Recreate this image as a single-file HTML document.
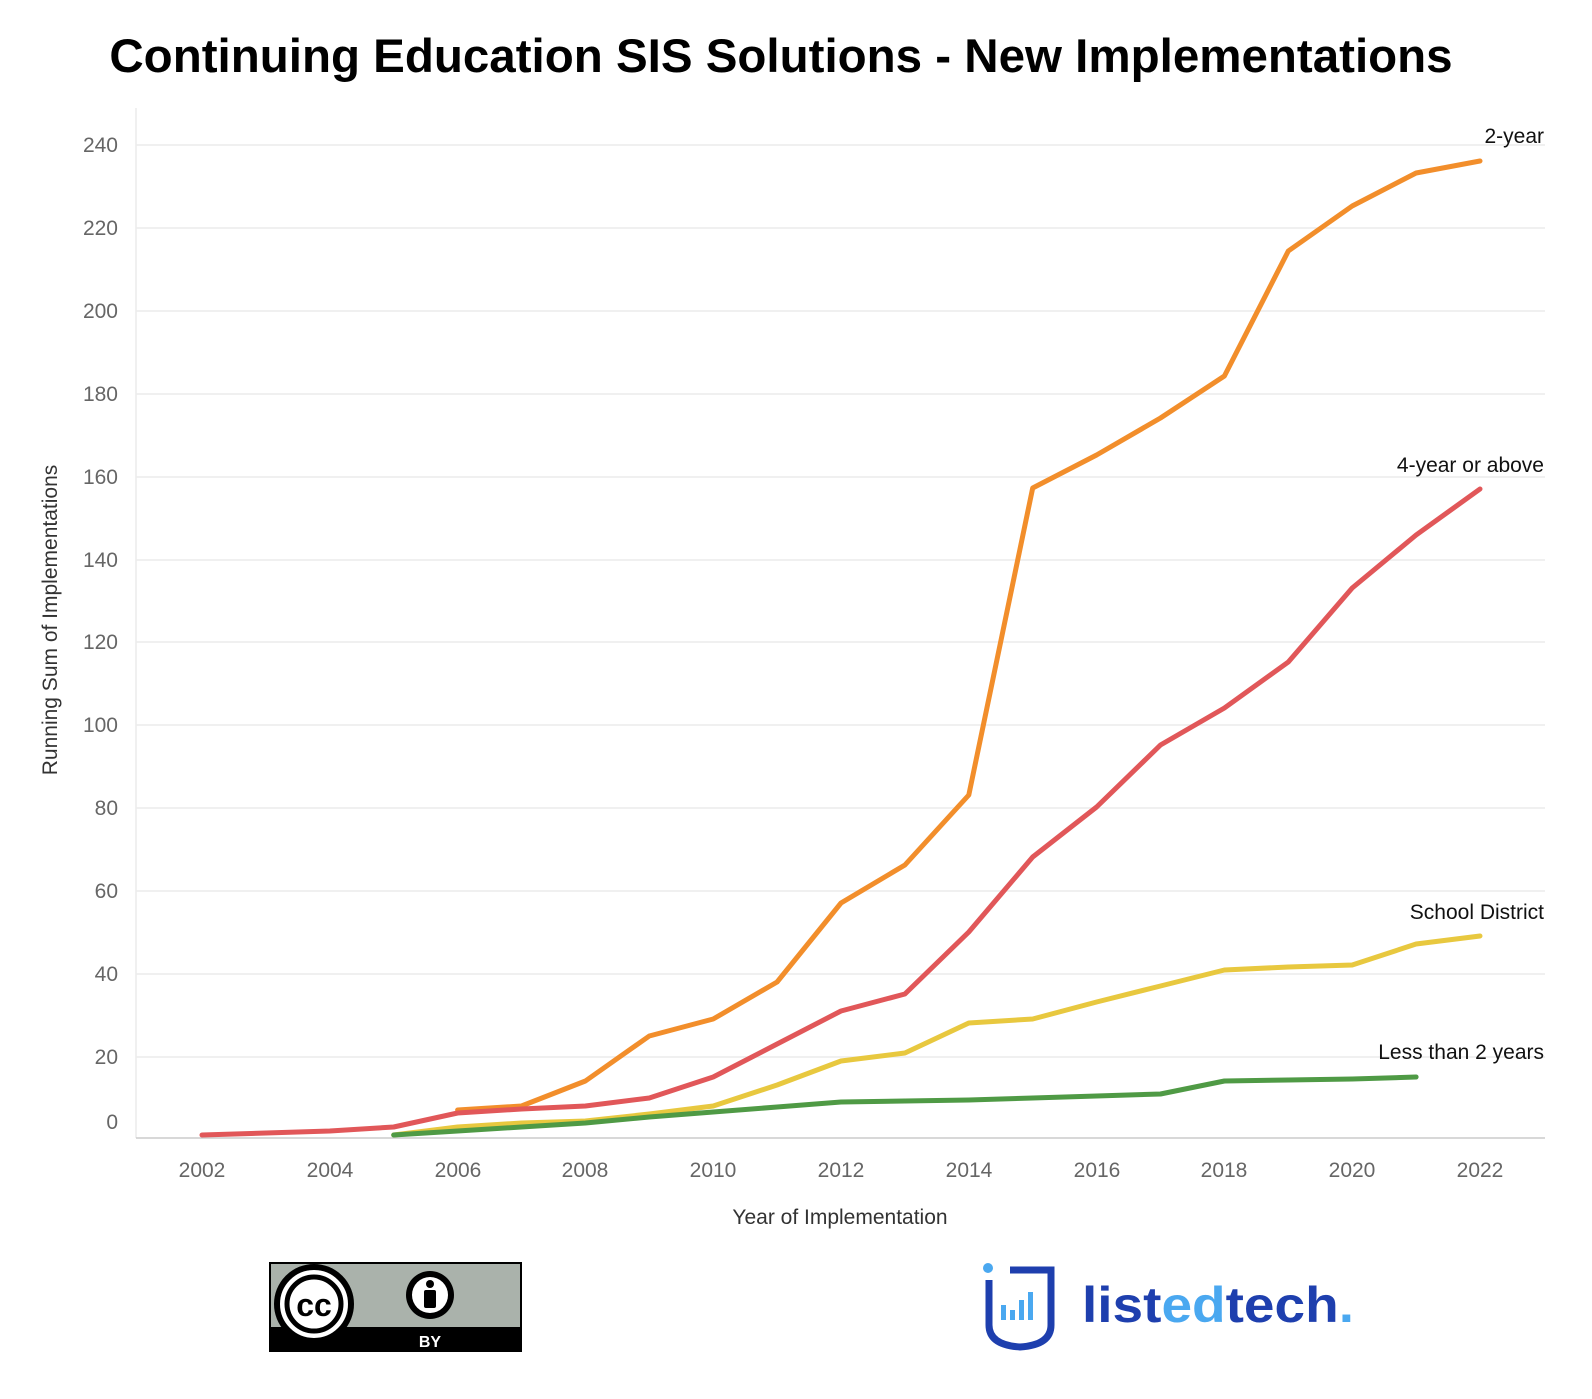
<!DOCTYPE html>
<html><head><meta charset="utf-8"><style>
body{margin:0;background:#fff;}
svg text{font-family:"Liberation Sans",sans-serif;}
</style></head><body>
<svg width="1592" height="1394" viewBox="0 0 1592 1394" xmlns="http://www.w3.org/2000/svg">
<text x="781" y="72" text-anchor="middle" font-size="47.5" font-weight="bold" fill="#000">Continuing Education SIS Solutions - New Implementations</text>
<g stroke="#ececec" stroke-width="1.5">
<line x1="136" y1="145" x2="1545" y2="145"/><line x1="136" y1="228" x2="1545" y2="228"/><line x1="136" y1="311" x2="1545" y2="311"/><line x1="136" y1="394" x2="1545" y2="394"/><line x1="136" y1="477" x2="1545" y2="477"/><line x1="136" y1="560" x2="1545" y2="560"/><line x1="136" y1="642" x2="1545" y2="642"/><line x1="136" y1="725" x2="1545" y2="725"/><line x1="136" y1="808" x2="1545" y2="808"/><line x1="136" y1="891" x2="1545" y2="891"/><line x1="136" y1="974" x2="1545" y2="974"/><line x1="136" y1="1057" x2="1545" y2="1057"/>
<line x1="136" y1="108" x2="136" y2="1138"/>
</g>
<line x1="136" y1="1138" x2="1545" y2="1138" stroke="#ccc" stroke-width="1.5"/>
<g font-size="21" fill="#666" text-anchor="end">
<text x="118" y="152">240</text><text x="118" y="235">220</text><text x="118" y="318">200</text><text x="118" y="401">180</text><text x="118" y="484">160</text><text x="118" y="567">140</text><text x="118" y="649">120</text><text x="118" y="732">100</text><text x="118" y="815">80</text><text x="118" y="898">60</text><text x="118" y="981">40</text><text x="118" y="1064">20</text><text x="118" y="1129">0</text>
</g>
<g font-size="21" fill="#666" text-anchor="middle">
<text x="202" y="1177">2002</text><text x="330" y="1177">2004</text><text x="458" y="1177">2006</text><text x="585" y="1177">2008</text><text x="713" y="1177">2010</text><text x="841" y="1177">2012</text><text x="969" y="1177">2014</text><text x="1097" y="1177">2016</text><text x="1224" y="1177">2018</text><text x="1352" y="1177">2020</text><text x="1480" y="1177">2022</text>
</g>
<text x="840" y="1224" text-anchor="middle" font-size="21" fill="#333">Year of Implementation</text>
<text transform="translate(57,620) rotate(-90)" text-anchor="middle" font-size="21" fill="#333">Running Sum of Implementations</text>
<g fill="none" stroke-width="5" stroke-linejoin="round" stroke-linecap="round">
<polyline stroke="#e8c83f" points="393.7,1135 457.6,1127 521.5,1123 585.4,1121 649.3,1114 713.2,1106 777.1,1085 841,1061 904.9,1053 968.8,1023 1032.7,1019 1096.6,1002 1160.5,986 1224.4,970 1288.3,967 1352.2,965 1416.1,944 1480,936"/>
<polyline stroke="#4f9a45" points="393.7,1135 457.6,1131 521.5,1127 585.4,1123 649.3,1117 713.2,1112 777.1,1107 841,1102 904.9,1101 968.8,1100 1032.7,1098 1096.6,1096 1160.5,1094 1224.4,1081 1288.3,1080 1352.2,1079 1416.1,1077"/>
<polyline stroke="#f28e2b" points="457.6,1110 521.5,1106 585.4,1081 649.3,1036 713.2,1019 777.1,982 841,903 904.9,865 968.8,795 1032.7,488 1096.6,455 1160.5,418 1224.4,376 1288.3,251 1352.2,206 1416.1,173 1480,161"/>
<polyline stroke="#e15759" points="202,1135 329.8,1131 393.7,1127 457.6,1113 521.5,1109 585.4,1106 649.3,1098 713.2,1077 777.1,1044 841,1011 904.9,994 968.8,932 1032.7,857 1096.6,807 1160.5,745 1224.4,708 1288.3,662 1352.2,588 1416.1,535 1480,489"/>
</g>
<g font-size="21" fill="#111" text-anchor="end">
<text x="1544" y="143">2-year</text>
<text x="1544" y="472">4-year or above</text>
<text x="1544" y="919">School District</text>
<text x="1544" y="1059">Less than 2 years</text>
</g>
<!-- CC BY logo -->
<rect x="270" y="1263" width="251" height="88" fill="#aab2ab" stroke="#000" stroke-width="2"/>
<rect x="270" y="1327" width="251" height="24" fill="#000"/>
<text x="430" y="1347" font-size="16" font-weight="bold" fill="#fff" text-anchor="middle">BY</text>
<circle cx="314" cy="1304" r="37" fill="#fff" stroke="#000" stroke-width="6"/>
<circle cx="314" cy="1304" r="27" fill="#fff" stroke="#000" stroke-width="5"/>
<text x="314" y="1316" font-size="32" font-weight="bold" text-anchor="middle" fill="#000">cc</text>
<circle cx="430" cy="1295" r="24" fill="#000"/>
<circle cx="430" cy="1295" r="18" fill="#fff"/>
<circle cx="430" cy="1284" r="4" fill="#000"/>
<rect x="424" y="1290" width="12" height="18" rx="2" fill="#000"/>
<!-- listedtech logo -->
<path d="M989 1280 V1325 Q989 1345 1020 1347 Q1051 1345 1051 1325 V1270 H1010" fill="none" stroke="#1e3fae" stroke-width="7"/>
<circle cx="988" cy="1268" r="5" fill="#4aa8f0"/>
<g fill="#4aa8f0"><rect x="1001" y="1305" width="5" height="15"/><rect x="1010" y="1310" width="5" height="10"/><rect x="1019" y="1300" width="5" height="20"/><rect x="1028" y="1292" width="5" height="28"/></g>
<text x="1082" y="1322" font-size="50" font-weight="bold" fill="#1e3fae" textLength="272" lengthAdjust="spacingAndGlyphs">list<tspan fill="#4aa8f0">ed</tspan>tech<tspan fill="#4aa8f0">.</tspan></text>
</svg>
</body></html>
